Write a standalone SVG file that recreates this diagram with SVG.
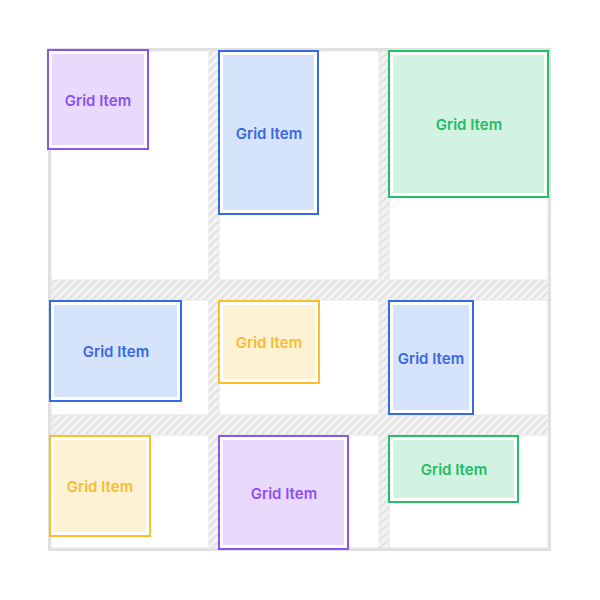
<svg xmlns="http://www.w3.org/2000/svg" width="600" height="600" viewBox="0 0 600 600">
  <defs>
    <pattern id="hatch" patternUnits="userSpaceOnUse" width="8" height="8">
      <rect width="8" height="8" fill="#f4f4f4"/>
      <path d="M-2,2 L2,-2 M0,8 L8,0 M6,10 L10,6" stroke="#e3e3e3" stroke-width="2.5"/>
    </pattern>
  </defs>
  <style>
    .cell { fill: #ffffff; stroke: #e6e6e6; stroke-width: 1; }
    .lbl { font-family: Inter, "Liberation Sans", sans-serif; font-size: 15px; font-weight: 600; text-anchor: middle; dominant-baseline: central; }
    .box { fill: #ffffff; stroke-width: 2; }
    .purple .box { stroke: #8b55f0; }
    .purple .fill { fill: #e9dafd; }
    .purple text { fill: #8b4ff0; }
    .blue .box { stroke: #356ae6; }
    .blue .fill { fill: #d5e3fb; }
    .blue text { fill: #3868e4; }
    .green .box { stroke: #22c168; }
    .green .fill { fill: #d2f3e2; }
    .green text { fill: #22bb66; }
    .yellow .box { stroke: #fbbf2c; }
    .yellow .fill { fill: #fef2d5; }
    .yellow text { fill: #f7bd2e; }
  </style>
  <rect width="600" height="600" fill="#ffffff"/>
  <g id="container">
    <rect x="49.5" y="49.5" width="500" height="500" fill="url(#hatch)" stroke="#e0e0e0" stroke-width="3"/>
    <rect class="cell" x="51" y="51" width="158" height="229"/>
    <rect class="cell" x="219" y="51" width="160" height="229"/>
    <rect class="cell" x="389" y="51" width="159" height="229"/>
    <rect class="cell" x="51" y="300" width="158" height="115"/>
    <rect class="cell" x="219" y="300" width="160" height="115"/>
    <rect class="cell" x="389" y="300" width="159" height="115"/>
    <rect class="cell" x="51" y="435" width="158" height="113"/>
    <rect class="cell" x="219" y="435" width="160" height="113"/>
    <rect class="cell" x="389" y="435" width="159" height="113"/>
  </g>
  <g id="item1" class="purple">
    <rect class="box" x="48" y="50" width="100" height="99"/>
    <rect class="fill" x="52" y="54" width="92" height="91"/>
    <text class="lbl" x="98" y="100">Grid Item</text>
  </g>
  <g id="item2" class="blue">
    <rect class="box" x="219" y="51" width="99" height="163"/>
    <rect class="fill" x="223" y="55" width="91" height="155"/>
    <text class="lbl" x="269" y="133">Grid Item</text>
  </g>
  <g id="item3" class="green">
    <rect class="box" x="389" y="51" width="159" height="146"/>
    <rect class="fill" x="393" y="55" width="151" height="138"/>
    <text class="lbl" x="469" y="124">Grid Item</text>
  </g>
  <g id="item4" class="blue">
    <rect class="box" x="50" y="301" width="131" height="100"/>
    <rect class="fill" x="54" y="305" width="123" height="92"/>
    <text class="lbl" x="116" y="351">Grid Item</text>
  </g>
  <g id="item5" class="yellow">
    <rect class="box" x="219" y="301" width="100" height="82"/>
    <rect class="fill" x="223" y="305" width="92" height="74"/>
    <text class="lbl" x="269" y="342">Grid Item</text>
  </g>
  <g id="item6" class="blue">
    <rect class="box" x="389" y="301" width="84" height="113"/>
    <rect class="fill" x="393" y="305" width="76" height="105"/>
    <text class="lbl" x="431" y="358">Grid Item</text>
  </g>
  <g id="item7" class="yellow">
    <rect class="box" x="50" y="436" width="100" height="100"/>
    <rect class="fill" x="54" y="440" width="92" height="92"/>
    <text class="lbl" x="100" y="486">Grid Item</text>
  </g>
  <g id="item8" class="purple">
    <rect class="box" x="219" y="436" width="129" height="113"/>
    <rect class="fill" x="223" y="440" width="121" height="105"/>
    <text class="lbl" x="284" y="493">Grid Item</text>
  </g>
  <g id="item9" class="green">
    <rect class="box" x="389" y="436" width="129" height="66"/>
    <rect class="fill" x="393" y="440" width="121" height="58"/>
    <text class="lbl" x="454" y="469">Grid Item</text>
  </g>
  <g id="connectors"/>
</svg>
